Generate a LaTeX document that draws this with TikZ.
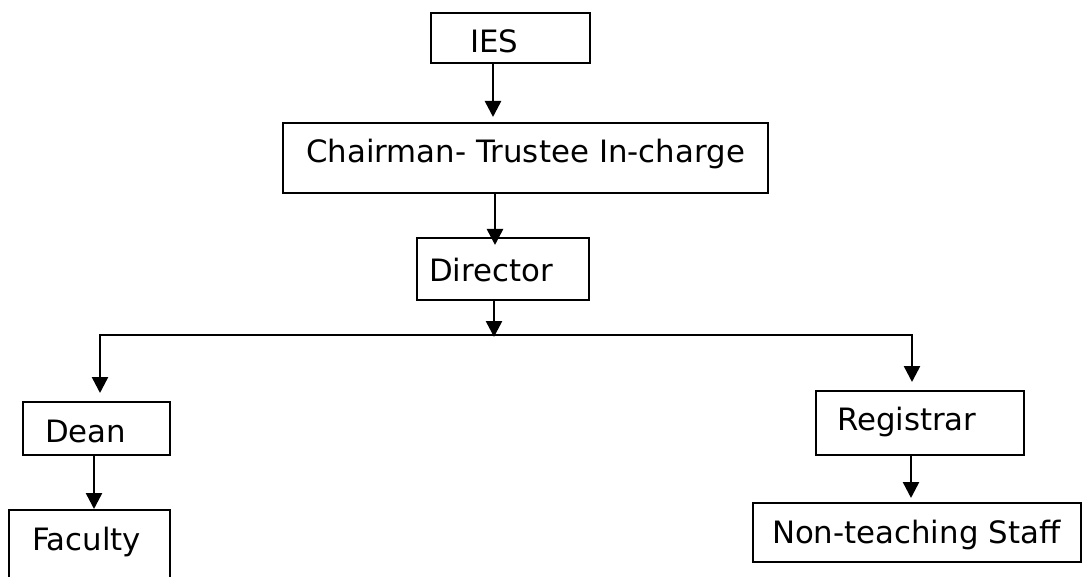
\documentclass[tikz,border=0pt]{standalone}
\usepackage{fontspec}
\setmainfont{DejaVu Sans}
\usepackage{tikz}
\usetikzlibrary{arrows.meta,positioning}

\begin{document}
\begin{tikzpicture}[x=1pt,y=-1pt,line width=2pt,
	>={Triangle[width=16pt,length=16pt]},
	link/.style={->,line width=2.5pt},
	org node/.style={draw,outer sep=0pt,inner ysep=0pt,align=left,text height=22pt,text depth=0pt,font=\fontsize{30.8}{36}\selectfont}]
	\useasboundingbox (0,0) rectangle (1083,577);

	\node[org node,inner xsep=39pt,text width=81pt,minimum height=50pt,text height=30pt] (ies) at (510.5,38) {IES};
	\node[org node,inner xsep=20pt,text width=445pt,align=center,minimum height=70pt,text depth=12pt] (chair) [below=60pt of ies,xshift=15pt] {Chairman- Trustee In-charge};
	\node[org node,inner xsep=12pt,text width=148pt,minimum height=62pt,text height=24pt] (dir) [below=45pt of chair,xshift=-22.5pt] {Director};
	\node[org node,inner xsep=22pt,text width=103pt,minimum height=53pt,text height=27pt] (dean) [below=102pt of dir,xshift=-406.5pt] {Dean};
	\node[org node,inner xsep=21pt,text width=166pt,minimum height=64pt,text depth=8pt] (reg) [below=91pt of dir,xshift=417pt] {Registrar};
	\node[org node,inner xsep=23pt,text width=115pt,minimum height=100pt,text depth=42pt] (fac) [below=55pt of dean,xshift=-7pt] {Faculty};
	\node[org node,inner xsep=19pt,text width=290pt,minimum height=59pt] (staff) [below=48pt of reg,xshift=-3pt] {Non-teaching Staff};

	\coordinate[below=35pt of dir.south,xshift=-9pt] (split);

	\draw[link,shorten >=6pt] ([xshift=-17.5pt]ies.south) -- ([xshift=-17.5pt]ies.south |- chair.north);
	\draw[link,shorten >=-7pt] ([xshift=-30.5pt]chair.south) -- ([xshift=-30.5pt]chair.south |- dir.north);
	\draw[link,shorten >=-2pt] ([xshift=-9pt]dir.south) -- (split);
	\draw[link,shorten >=9pt] (split) -| ([xshift=3.5pt]dean.north);
	\draw[link,shorten >=9pt] (split) -| ([xshift=-8pt]reg.north);
	\draw[link,shorten >=1pt] ([xshift=-2.5pt]dean.south) -- ([xshift=-2.5pt]dean.south |- fac.north);
	\draw[link,shorten >=5pt] ([xshift=-9pt]reg.south) -- ([xshift=-9pt]reg.south |- staff.north);
\end{tikzpicture}
\end{document}
